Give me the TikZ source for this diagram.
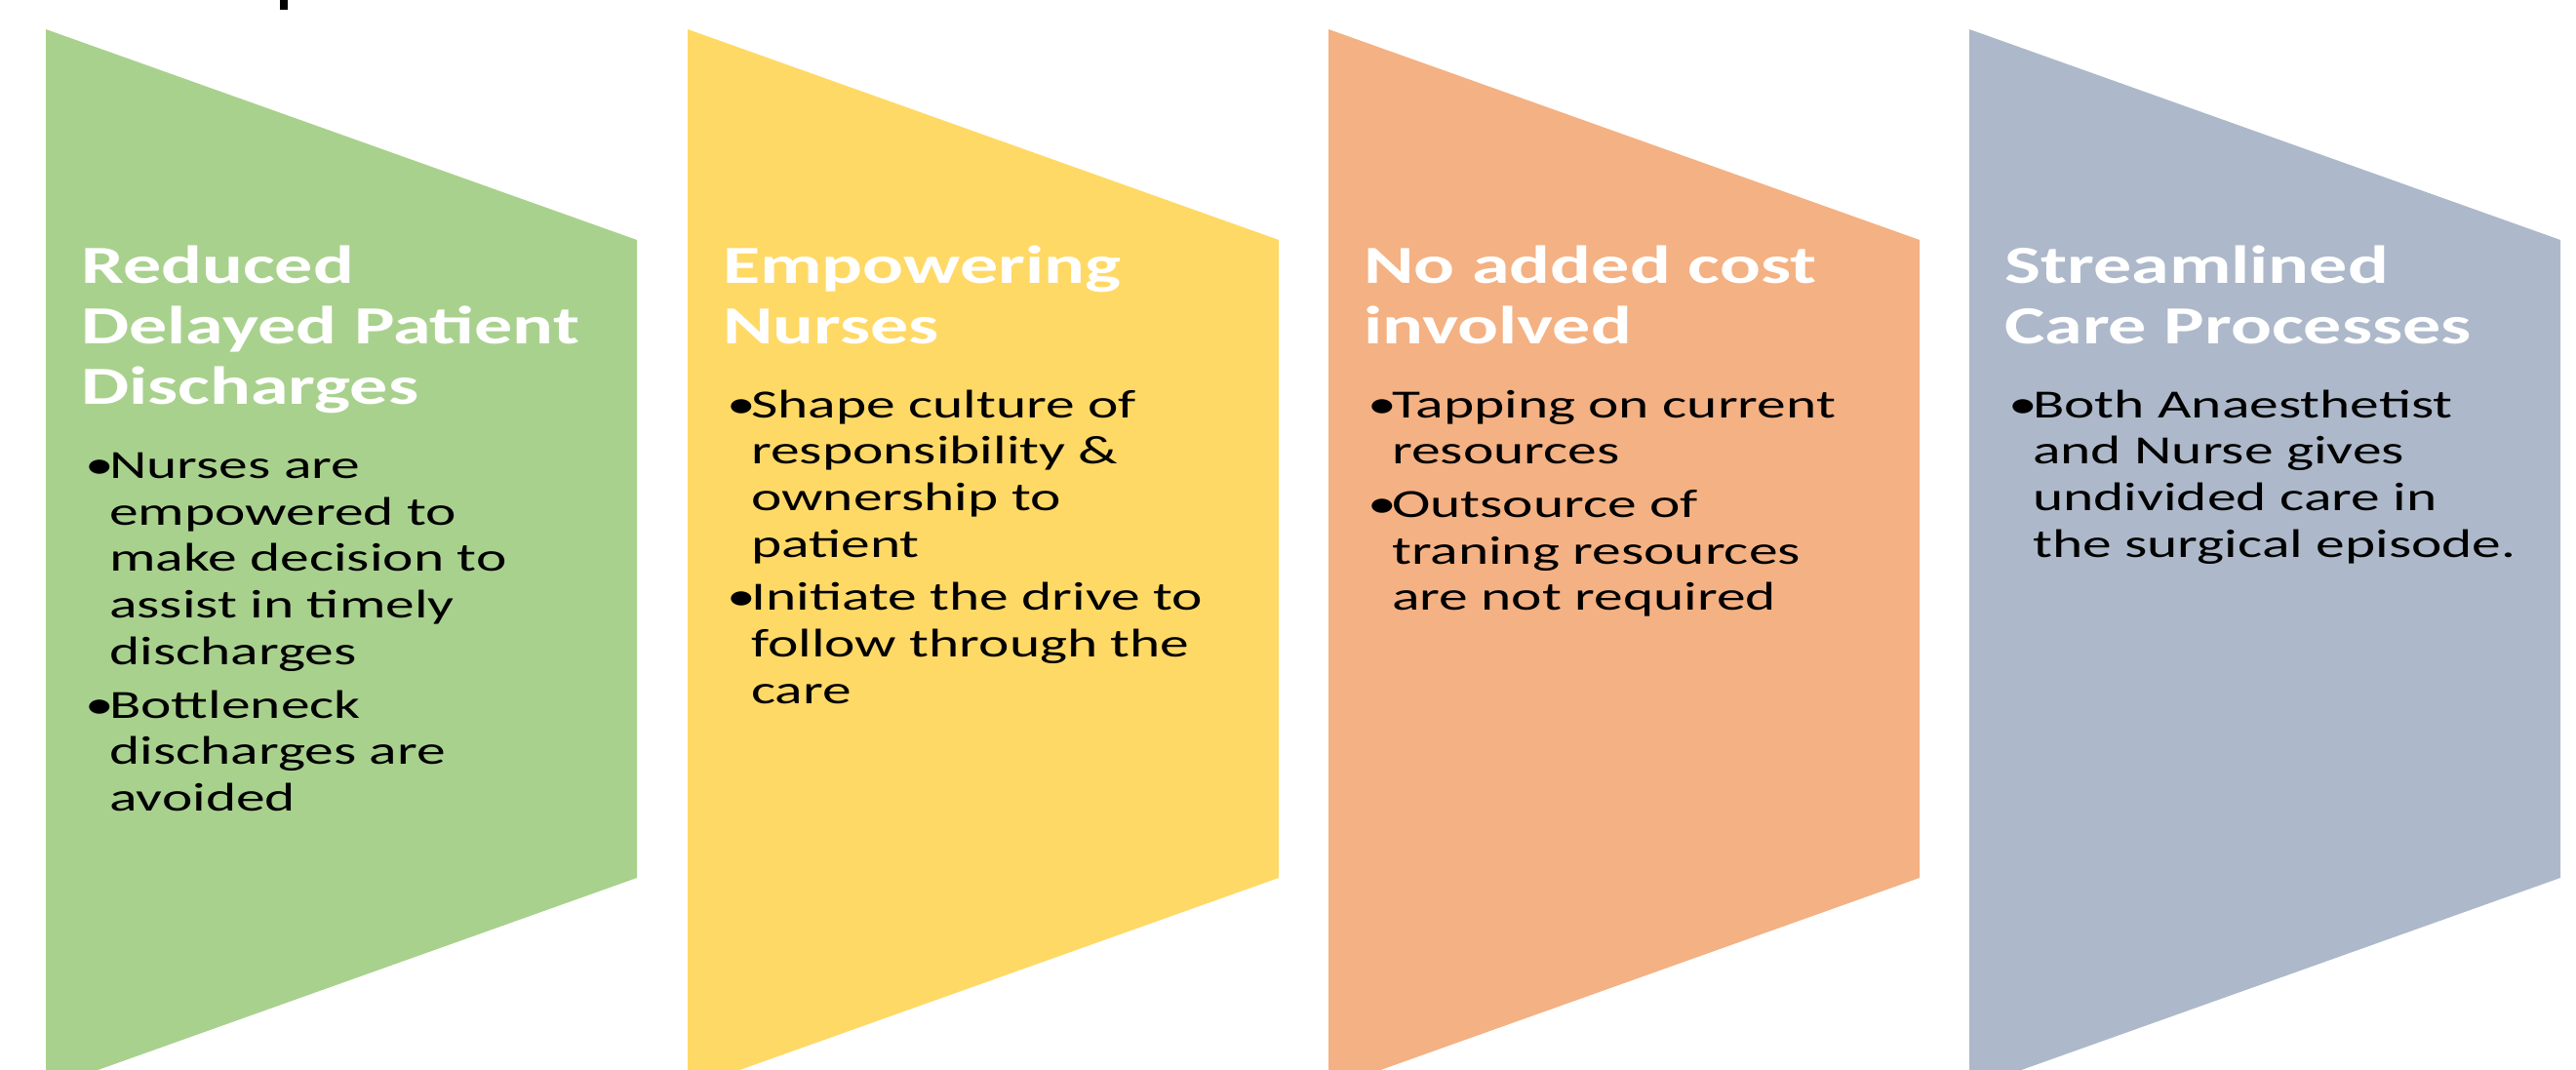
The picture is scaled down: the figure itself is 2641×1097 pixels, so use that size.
\documentclass[tikz,border=0pt]{standalone}
\usepackage{fontspec}
\setmainfont{Carlito}[FakeStretch=1.45]
\newfontfamily\ttlfont{Carlito}[FakeStretch=1.42]
\definecolor{cgreen}{HTML}{A9D18E}
\definecolor{cyellow}{HTML}{FFD966}
\definecolor{corange}{HTML}{F4B183}
\definecolor{cblue}{HTML}{ADB9CA}
\newlength\bulw
\setlength\bulw{25pt}
\newcommand\bl[1]{\hbox{\makebox[\bulw][l]{•}#1}}
\newcommand\cl[1]{\hbox{\hspace*{\bulw}#1}}
\newcommand\bgap{\vskip 7pt}
\tikzset{
  chev/.style={fill=#1, draw=none},
  ttl/.style={anchor=base west, inner sep=0pt, text=white,
    font=\ttlfont\bfseries\fontsize{55}{62}\selectfont},
  bdy/.style={anchor=base west, inner sep=0pt, text=black,
    font=\fontsize{41}{47.7}\selectfont},
}
\begin{document}
\begin{tikzpicture}[x=1pt,y=-1pt]
\useasboundingbox (0,0) rectangle (2641,1097);
\clip (0,0) rectangle (2641,1097);
% cut-off fragment at the top
\fill[black] (287,0) rectangle (295,10);
% chevron shapes
\fill[chev=cgreen]  (47,30)   -- (653,246)  -- (653,900)  -- (47,1116)   -- cycle;
\fill[chev=cyellow] (705,30)  -- (1311,246) -- (1311,900) -- (705,1116)  -- cycle;
\fill[chev=corange] (1362,30) -- (1968,246) -- (1968,900) -- (1362,1116) -- cycle;
\fill[chev=cblue]   (2019,30) -- (2625,246) -- (2625,900) -- (2019,1116) -- cycle;
% titles
\node[ttl] (t1) at (83,290)   {\vtop{\hbox{Reduced}\hbox{Delayed Patient}\hbox{Discharges}}};
\node[ttl] (t2) at (741,290)  {\vtop{\hbox{Empowering}\hbox{Nurses}}};
\node[ttl] (t3) at (1398,290) {\vtop{\hbox{No added cost}\hbox{involved}}};
\node[ttl] (t4) at (2055,290) {\vtop{\hbox{Streamlined}\hbox{Care Processes}}};
% bodies
\node[bdy] (b1) at (87,490.5) {\vtop{\bl{Nurses are}\cl{empowered to}\cl{make decision to}\cl{assist in timely}\cl{discharges}\bgap
  \bl{Bottleneck}\cl{discharges are}\cl{avoided}}};
\node[bdy] (b2) at (745,428) {\vtop{\bl{Shape culture of}\cl{responsibility \&}\cl{ownership to}\cl{patient}\bgap
  \bl{Initiate the drive to}\cl{follow through the}\cl{care}}};
\node[bdy] (b3) at (1402,428) {\vtop{\bl{Tapping on current}\cl{resources}\bgap
  \bl{Outsource of}\cl{traning resources}\cl{are not required}}};
\node[bdy] (b4) at (2059,428) {\vtop{\bl{Both Anaesthetist}\cl{and Nurse gives}\cl{undivided care in}\cl{the surgical episode.}}};
\end{tikzpicture}
\end{document}
